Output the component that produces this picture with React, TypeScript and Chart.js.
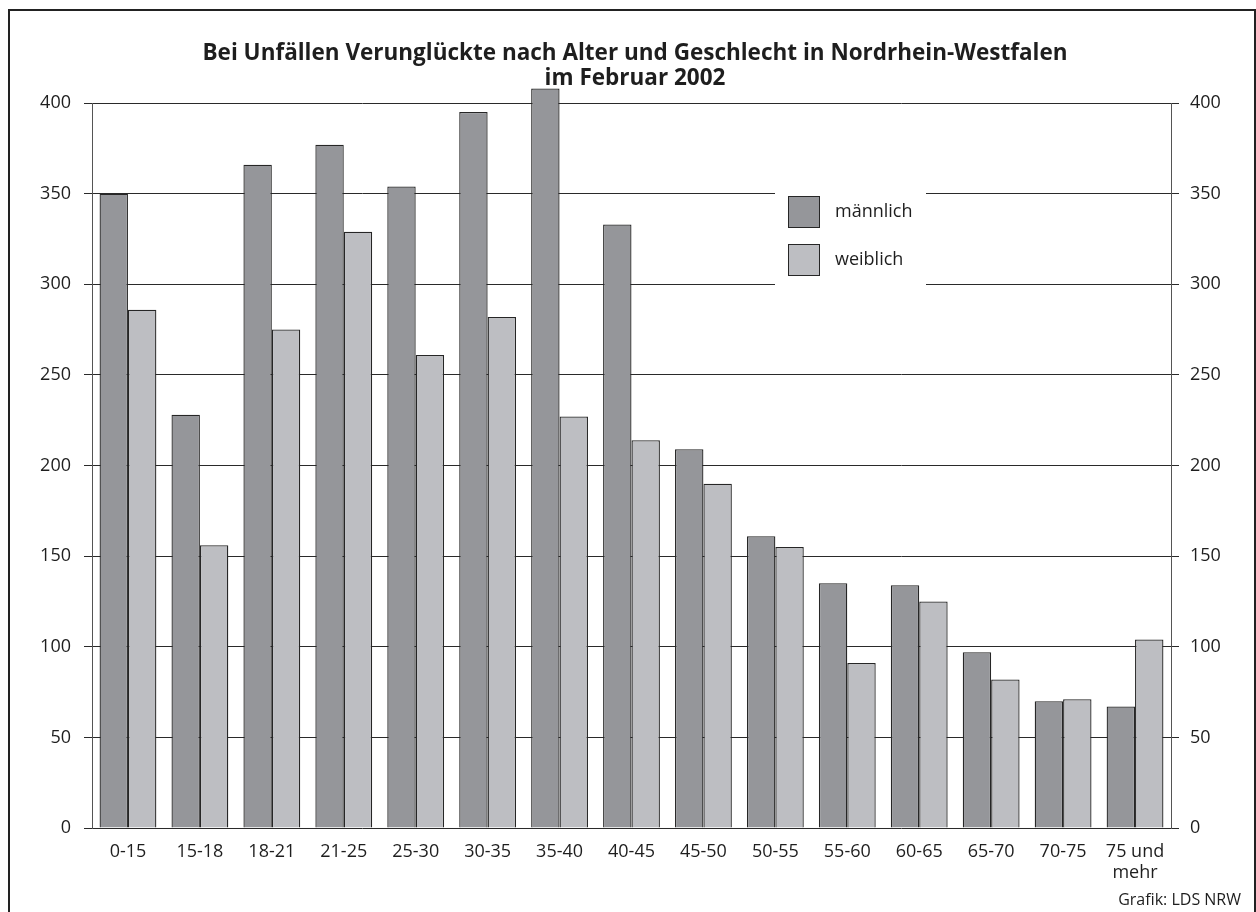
import React, { useEffect, useRef } from "react";
import { Chart, registerables } from "chart.js";

Chart.register(...registerables);

const TITLE_LINES = [
  "Bei Unfällen Verunglückte nach Alter und Geschlecht in Nordrhein-Westfalen",
  "im Februar 2002",
];
const CREDIT = "Grafik: LDS NRW";
const CATEGORIES: (string | string[])[] = [
  "0-15", "15-18", "18-21", "21-25", "25-30", "30-35", "35-40", "40-45",
  "45-50", "50-55", "55-60", "60-65", "65-70", "70-75", ["75 und", "mehr"],
];
const MALE = [350, 228, 366, 377, 354, 395, 408, 333, 209, 161, 135, 134, 97, 70, 67];
const FEMALE = [286, 156, 275, 329, 261, 282, 227, 214, 190, 155, 91, 125, 82, 71, 104];
const SERIES_NAMES = ["männlich", "weiblich"];
const Y_MIN = 0;
const Y_MAX = 400;
const Y_STEP = 50;

const FONT = "'Open Sans', 'Noto Sans', sans-serif";
const MALE_COLOR = "#95969a";
const FEMALE_COLOR = "#bdbec2";
const EDGE = "#262626";
const TEXT = "#1e1e1e";

const overlayPlugin = {
  id: "overlay",
  afterDraw(chart: any) {
    const ctx = chart.ctx;
    ctx.save();
    // frame
    ctx.strokeStyle = "#222";
    ctx.lineWidth = 2;
    ctx.strokeRect(9, 10, 1246, 930);
    // title
    ctx.fillStyle = TEXT;
    ctx.textAlign = "center";
    ctx.textBaseline = "alphabetic";
    ctx.font = `bold 22.5px ${FONT}`;
    ctx.fillText(TITLE_LINES[0], 635, 60);
    ctx.fillText(TITLE_LINES[1], 635, 85);
    // legend box
    ctx.fillStyle = "#ffffff";
    ctx.fillRect(775, 186, 151, 106);
    const ds = chart.data.datasets;
    const rows = [196, 244];
    ds.forEach((d: any, i: number) => {
      ctx.fillStyle = d.backgroundColor;
      ctx.fillRect(788, rows[i], 32, 32);
      ctx.strokeStyle = EDGE;
      ctx.lineWidth = 1;
      ctx.strokeRect(788.5, rows[i] + 0.5, 31, 31);
      ctx.fillStyle = TEXT;
      ctx.textAlign = "left";
      ctx.textBaseline = "middle";
      ctx.font = `18px ${FONT}`;
      ctx.fillText(d.label, 835, rows[i] + 16);
    });
    // credit
    ctx.fillStyle = TEXT;
    ctx.textAlign = "right";
    ctx.textBaseline = "middle";
    ctx.font = `16px ${FONT}`;
    ctx.fillText(CREDIT, 1241, 900);
    ctx.restore();
  },
};

export default function App() {
  const ref = useRef<HTMLCanvasElement | null>(null);

  useEffect(() => {
    if (!ref.current) return;
    const tickFont = { family: FONT, size: 18 };
    const xFont = { family: FONT, size: 18, lineHeight: 1.15 };
    const chart = new Chart(ref.current, {
      type: "bar",
      data: {
        labels: CATEGORIES,
        datasets: [
          {
            label: SERIES_NAMES[0],
            data: MALE,
            backgroundColor: MALE_COLOR,
            borderColor: EDGE,
            borderWidth: 1.3,
            categoryPercentage: 0.79,
            barPercentage: 1,
            clip: false,
            yAxisID: "y",
          },
          {
            label: SERIES_NAMES[1],
            data: FEMALE,
            backgroundColor: FEMALE_COLOR,
            borderColor: EDGE,
            borderWidth: 1.3,
            categoryPercentage: 0.79,
            barPercentage: 1,
            clip: false,
            yAxisID: "y",
          },
        ],
      },
      options: {
        responsive: false,
        animation: false,
        devicePixelRatio: 1,
        layout: { padding: { top: 103, left: 0, right: 0, bottom: 0 } },
        plugins: {
          legend: { display: false },
          title: { display: false },
          tooltip: { enabled: false },
        },
        scales: {
          x: {
            grid: { display: false },
            border: { display: false },
            ticks: { font: xFont, color: TEXT, padding: 6, maxRotation: 0, autoSkip: false },
            afterFit: (s: any) => { s.height = 84; },
          },
          y: {
            position: "left",
            min: Y_MIN,
            max: Y_MAX,
            ticks: { stepSize: Y_STEP, font: tickFont, color: TEXT, padding: 13 },
            grid: { color: "#2a2a2a", lineWidth: 1, tickLength: 8, drawTicks: true },
            border: { display: true, color: "#555", width: 1 },
            afterFit: (s: any) => { s.width = 92; },
          },
          y2: {
            position: "right",
            min: Y_MIN,
            max: Y_MAX,
            ticks: { stepSize: Y_STEP, font: tickFont, color: TEXT, padding: 11 },
            grid: { color: "#2a2a2a", lineWidth: 1, tickLength: 8, drawOnChartArea: false },
            border: { display: true, color: "#555", width: 1 },
            afterFit: (s: any) => { s.width = 85; },
          },
        },
      },
      plugins: [overlayPlugin],
    } as any);
    return () => chart.destroy();
  }, []);

  return (
    <div style={{ position: "fixed", left: 0, top: 0, width: 1256, height: 912, background: "#fff" }}>
      <canvas ref={ref} width={1256} height={912} style={{ display: "block" }} />
    </div>
  );
}
